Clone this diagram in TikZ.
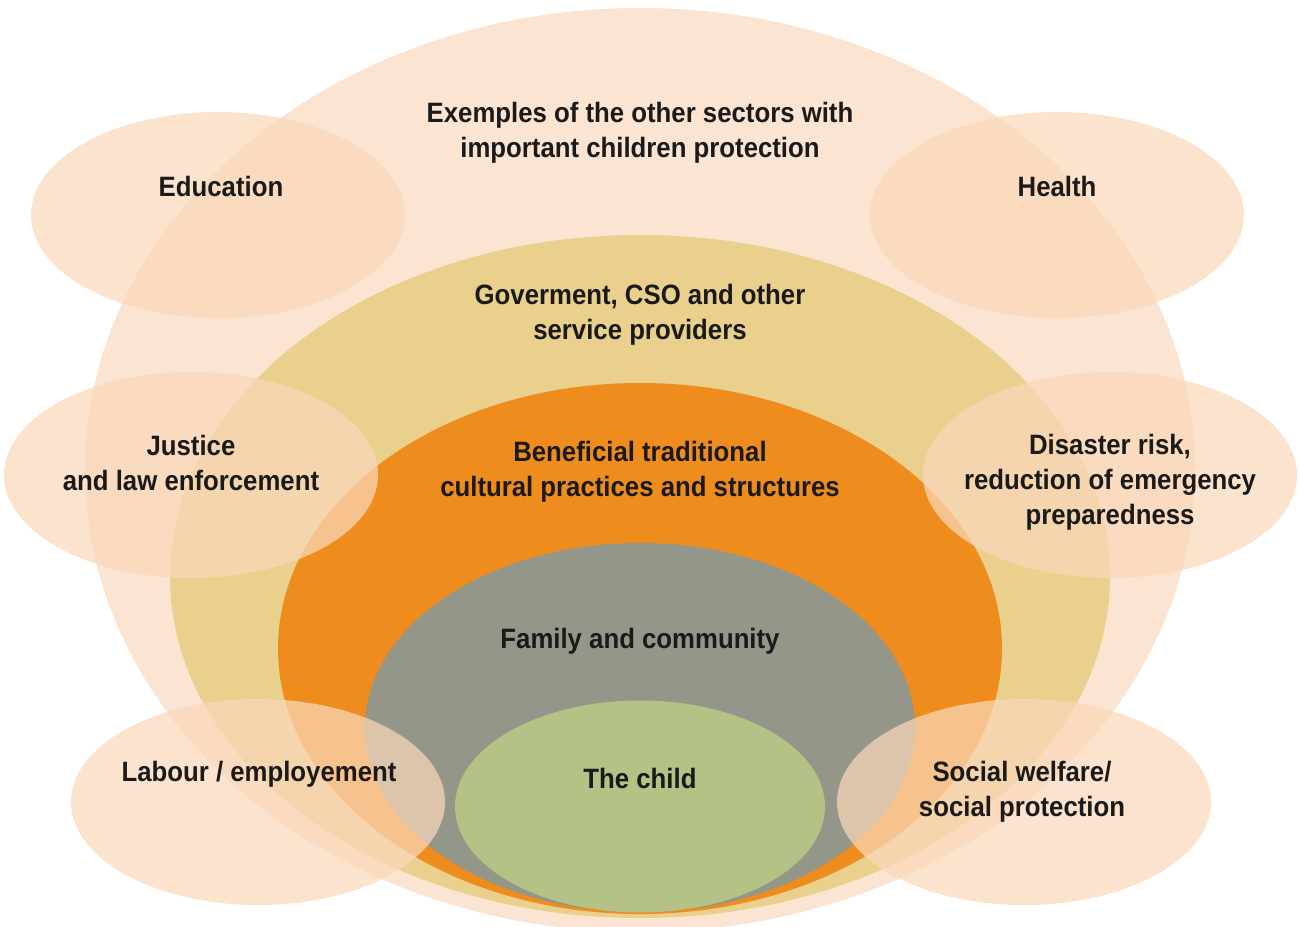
\documentclass[tikz,border=0pt]{standalone}
\usepackage{fontspec}
\setmainfont{Liberation Sans}[FakeStretch=0.92]
\usetikzlibrary{shapes.geometric}
\definecolor{bigpeach}{HTML}{FCE4D2}
\definecolor{smallpeach}{HTML}{FAD8BA}
\definecolor{govyellow}{HTML}{E9D08C}
\definecolor{cultorange}{HTML}{EE8C1E}
\definecolor{famgray}{HTML}{94968A}
\definecolor{childgreen}{HTML}{B4C285}
\definecolor{txt}{HTML}{1A1A1A}
\tikzset{
  ring/.style={ellipse, inner sep=0pt, draw=none},
  sector/.style={ellipse, inner sep=0pt, draw=none, fill=smallpeach, fill opacity=0.72,
    minimum width=374pt, minimum height=206pt},
  lbl/.style={text=txt, align=center, font=\bfseries\fontsize{28}{35}\selectfont, inner sep=0pt}
}
\begin{document}
\begin{tikzpicture}[x=1pt,y=-1pt]
\useasboundingbox (0,0) rectangle (1300,926);
% concentric layers
\node[ring, fill=bigpeach, minimum width=1110pt, minimum height=924pt] (outer) at (640,470) {};
\node[ring, fill=govyellow, minimum width=940pt, minimum height=683pt] (gov) at (640,576.5) {};
\node[ring, fill=cultorange, minimum width=724pt, minimum height=531pt] (cult) at (640,648.5) {};
\node[ring, fill=famgray, minimum width=550pt, minimum height=369pt] (fam) at (640,727.5) {};
\node[ring, fill=childgreen, minimum width=370pt, minimum height=212pt] (child) at (640,806.5) {};
% sector ellipses
\node[sector] (edu) at (218,215) {};
\node[sector] (health) at (1057,215) {};
\node[sector] (just) at (191,475) {};
\node[sector] (dis) at (1110,475) {};
\node[sector] (lab) at (258,802) {};
\node[sector] (soc) at (1024,802) {};
% labels
\node[lbl] (tOuter) at (640,133) {Exemples of the other sectors with\\important children protection};
\node[lbl] (tEdu) at (221,186) {Education};
\node[lbl] (tHealth) at (1057,186) {Health};
\node[lbl] (tGov) at (640,315) {Goverment, CSO and other\\service providers};
\node[lbl] (tJust) at (191,463) {Justice\\and law enforcement};
\node[lbl] (tCult) at (640,472) {Beneficial traditional\\cultural practices and structures};
\node[lbl] (tDis) at (1110,482) {Disaster risk,\\reduction of emergency\\preparedness};
\node[lbl] (tFam) at (640,641) {Family and community};
\node[lbl] (tLab) at (259,774) {Labour / employement};
\node[lbl] (tChild) at (640,778) {The child};
\node[lbl] (tSoc) at (1022,792) {Social welfare/\\social protection};
\end{tikzpicture}
\end{document}
